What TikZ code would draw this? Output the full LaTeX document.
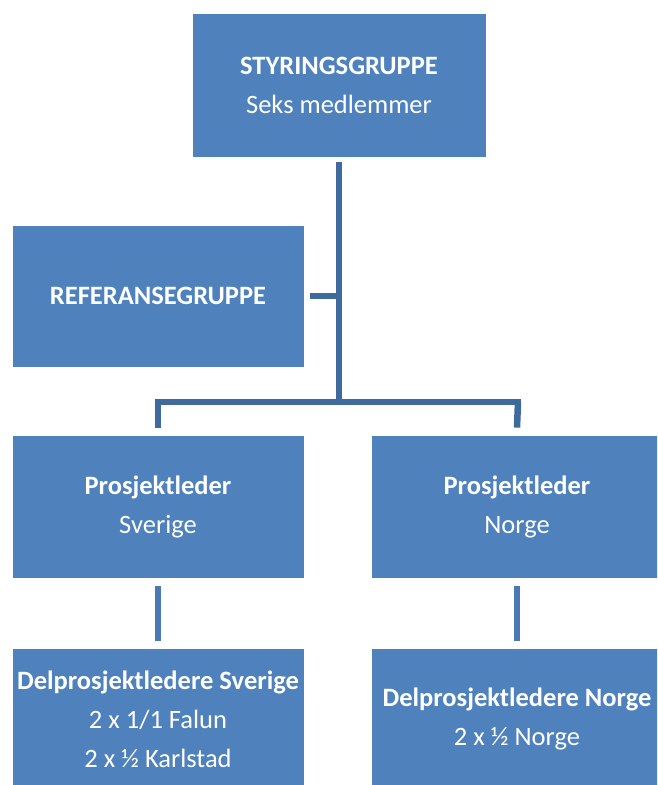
\documentclass[tikz,border=0pt]{standalone}
\usepackage{fontspec}
\setmainfont{Carlito}
\definecolor{boxblue}{HTML}{4F81BD}
\definecolor{linedark}{HTML}{3F6A9D}
\definecolor{linelight}{HTML}{4A7AB5}
\begin{document}
\begin{tikzpicture}[x=1pt,y=-1pt,
  orgbox/.style={fill=boxblue,draw=white,line width=0.8pt,text=white,
    minimum width=292pt,minimum height=143pt,inner sep=0pt,align=center,
    font=\fontsize{26.5}{39}\selectfont},
  trunk/.style={draw=linedark,line width=6.5pt},
  sub/.style={draw=linelight,line width=6pt}]
\useasboundingbox (0,0) rectangle (657,785);
\clip (0,0) rectangle (657,785);
\node[orgbox,minimum width=294pt,minimum height=144pt] (sty) at (339,85) {\textbf{STYRINGSGRUPPE}\\Seks medlemmer};
\node[orgbox,minimum height=142pt] (ref) at (158,296) {\textbf{REFERANSEGRUPPE}};
\node[orgbox] (plS) at (158,506.5) {\textbf{Prosjektleder}\\Sverige};
\node[orgbox] (plN) at (517,506.5) {\textbf{Prosjektleder}\\Norge};
\node[orgbox,minimum height=142pt] (dS) at (158,719) {\textbf{Delprosjektledere Sverige}\\2 x 1/1 Falun\\2 x ½ Karlstad};
\node[orgbox,minimum height=142pt] (dN) at (517,719) {\textbf{Delprosjektledere Norge}\\2 x ½ Norge};
\coordinate (j) at (339,402);
\coordinate (jl) at (158,402);
\coordinate (jr) at (518,402);
\draw[trunk] ([yshift=-5pt]sty.south) -- (j);
\draw[trunk] ([xshift=6pt]ref.east) -- (ref.east -| j);
\draw[trunk,line cap=rect] (jl) -- (jr);
\draw[trunk] (jl) -- ([yshift=7pt]plS.north);
\draw[trunk] (jr) -- ([yshift=7pt]plN.north);
\draw[sub] ([yshift=-8pt]plS.south) -- ([yshift=7pt]dS.north);
\draw[sub] ([yshift=-8pt]plN.south) -- ([yshift=7pt]dN.north);
\end{tikzpicture}
\end{document}
